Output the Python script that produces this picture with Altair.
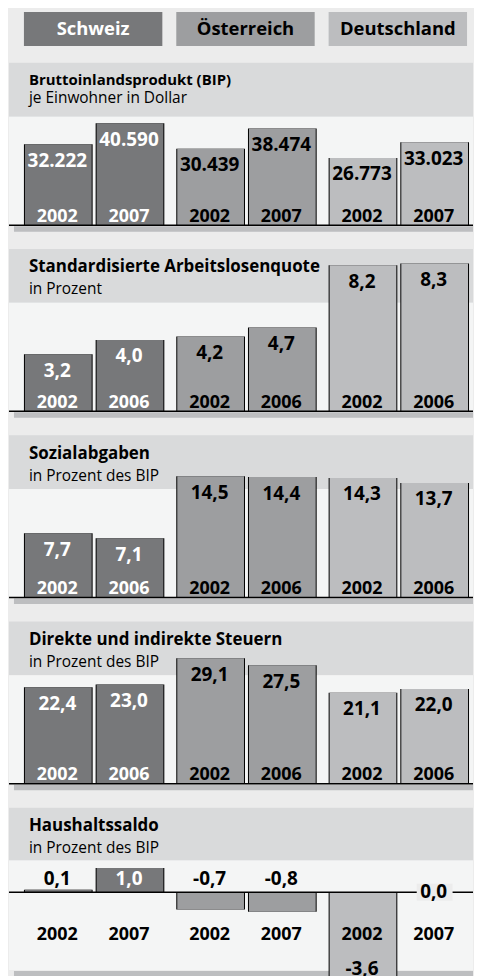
import altair as alt
import pandas as pd

# ---------------- data ----------------
countries = ["Schweiz", "Österreich", "Deutschland"]
titles = [
    "Bruttoinlandsprodukt (BIP)",
    "Standardisierte Arbeitslosenquote",
    "Sozialabgaben",
    "Direkte und indirekte Steuern",
    "Haushaltssaldo",
]
subtitles = [
    "je Einwohner in Dollar",
    "in Prozent",
    "in Prozent des BIP",
    "in Prozent des BIP",
    "in Prozent des BIP",
]
years = [
    ["2002", "2007"],
    ["2002", "2006"],
    ["2002", "2006"],
    ["2002", "2006"],
    ["2002", "2007"],
]
bip = [32222, 40590, 30439, 38474, 26773, 33023]
arbeitslosen = [3.2, 4.0, 4.2, 4.7, 8.2, 8.3]
sozial = [7.7, 7.1, 14.5, 14.4, 14.3, 13.7]
steuern = [22.4, 23.0, 29.1, 27.5, 21.1, 22.0]
haushalt = [0.1, 1.0, -0.7, -0.8, -3.6, 0.0]

# ---------------- style ----------------
W = 466
FONT = "Open Sans"
BAR_COLORS = ["#77787a", "#9d9ea0", "#bcbdbf"]
HEADER = "#d9dadb"
PLOTBG = "#f4f5f5"
PAGEBG = "#ececec"
SHADOW = "#bdbec0"
TITLE_SIZES = [15, 17, 17, 17, 17]

xscale = alt.Scale(domain=countries, range=[15, 462], paddingInner=0.0784, paddingOuter=0)
xoscale = alt.Scale(domain=[0, 1], paddingInner=0.0417, paddingOuter=0)
colscale = alt.Scale(domain=countries, range=BAR_COLORS)
one = pd.DataFrame({"k": [0]})


def fmt_de(v, thousands=False):
    if thousands:
        return f"{v:,}".replace(",", ".")
    return f"{v:.1f}".replace(".", ",")


def make_df(vals, yrs, thousands=False):
    rows = []
    for i, v in enumerate(vals):
        rows.append({
            "country": countries[i // 2],
            "slot": i % 2,
            "year": yrs[i % 2],
            "value": v,
            "label": fmt_de(v, thousands),
        })
    return pd.DataFrame(rows)


def deco(bg_top, base_y, shadow_bottom, p, title_y, sub_y):
    header = alt.Chart(one).mark_rect(color=HEADER).encode(
        x=alt.value(0), x2=alt.value(W), y=alt.value(0), y2=alt.value(bg_top))
    plotbg = alt.Chart(one).mark_rect(color=PLOTBG).encode(
        x=alt.value(0), x2=alt.value(W), y=alt.value(bg_top), y2=alt.value(base_y))
    shadow = alt.Chart(one).mark_rect(color=SHADOW).encode(
        x=alt.value(5), x2=alt.value(W), y=alt.value(base_y + 1), y2=alt.value(shadow_bottom))
    t = alt.Chart(one).mark_text(font=FONT, fontSize=TITLE_SIZES[p], fontWeight="bold", align="left",
                                 baseline="alphabetic", color="black").encode(
        x=alt.value(20), y=alt.value(title_y), text=alt.value(titles[p]))
    s = alt.Chart(one).mark_text(font=FONT, fontSize=15.5, align="left",
                                 baseline="alphabetic", color="black").encode(
        x=alt.value(20), y=alt.value(sub_y), text=alt.value(subtitles[p]))
    return [header, plotbg, shadow, t, s]


white_cond = "datum.country == 'Schweiz' && datum.value > 0.5"


def bars(df, Y):
    base = alt.Chart(df)
    X = alt.X("country:N", scale=xscale, axis=None)
    XO = alt.XOffset("slot:N", scale=xoscale)
    black = base.mark_bar(color="black", clip=True).encode(
        x=X, xOffset=XO, y=Y, y2=alt.datum(0))
    fill = base.mark_bar(width=67, xOffset=-1, clip=True).encode(
        x=X, xOffset=XO, y=Y, y2=alt.datum(0),
        color=alt.Color("country:N", scale=colscale, legend=None))
    return base, X, XO, [black, fill]


def std_panel(vals, p, domain, rng, thousands=False):
    df = make_df(vals, years[p], thousands)
    Y = alt.Y("value:Q", scale=alt.Scale(domain=domain, range=rng, nice=False, zero=False), axis=None)
    base, X, XO, bl = bars(df, Y)
    rule = alt.Chart(one).mark_rule(color="black", strokeWidth=1.5).encode(
        y=alt.YDatum(0, axis=None))
    vals_t = base.mark_text(font=FONT, fontSize=19, fontWeight="bold", baseline="alphabetic",
                            dy=22.5, dx=-1).encode(
        x=X, xOffset=XO, y=Y, text="label:N",
        color=alt.condition(white_cond, alt.value("white"), alt.value("black")))
    yrs_t = base.mark_text(font=FONT, fontSize=18, fontWeight="bold", baseline="alphabetic",
                           dy=-3.5, dx=-1).encode(
        x=X, xOffset=XO, y=alt.YDatum(0, axis=None), text="year:N",
        color=alt.condition("datum.country == 'Schweiz'", alt.value("white"), alt.value("black")))
    if p == 0:
        layers = deco(54, 163, 169.5, p, 22.5, 40.5)
    else:
        layers = deco(54, 163, 169.5, p, 23.5, 45.5)
    layers = layers + bl + [rule, vals_t, yrs_t]
    return alt.layer(*layers).properties(width=W, height=187)


def last_panel(h):
    p = 4
    df = make_df(haushalt, years[p])
    Y = alt.Y("value:Q", scale=alt.Scale(domain=[-4, 2], range=[183, 36], nice=False, zero=False), axis=None)
    base, X, XO, bl = bars(df, Y)
    rule = alt.Chart(one).mark_rule(color="black", strokeWidth=1.5).encode(
        y=alt.YDatum(0, axis=None))
    txt = dict(font=FONT, fontSize=19, fontWeight="bold", baseline="alphabetic", dx=-1)
    above = base.transform_filter("datum.value != 0 && datum.value > -2").mark_text(dy=-7, **txt).encode(
        x=X, xOffset=XO, y=alt.YDatum(0, axis=None), text="label:N",
        color=alt.condition(white_cond, alt.value("white"), alt.value("black")))
    zbg = base.transform_filter("datum.value == 0").mark_tick(
        color=PAGEBG, size=36, thickness=17, xOffset=-1, opacity=1).encode(
        x=X, xOffset=XO, y=Y)
    ztxt = base.transform_filter("datum.value == 0").mark_text(dy=6, **txt).encode(
        x=X, xOffset=XO, y=Y, text="label:N", color=alt.value("black"))
    below = base.transform_filter("datum.value <= -2").mark_text(dy=-5, **txt).encode(
        x=X, xOffset=XO, y=Y, text="label:N", color=alt.value("black"))
    yrs_t = base.mark_text(dy=48, font=FONT, fontSize=18, fontWeight="bold",
                           baseline="alphabetic", dx=-1).encode(
        x=X, xOffset=XO, y=alt.YDatum(0, axis=None), text="year:N", color=alt.value("black"))
    layers = deco(53, 163, 169.5, p, 23.5, 45.5) + bl + [rule, zbg, above, ztxt, below, yrs_t]
    return alt.layer(*layers).properties(width=W, height=h)


# legend
leg_df = pd.DataFrame({"country": countries})
LX = alt.X("country:N", scale=xscale, axis=None)
leg_boxes = alt.Chart(leg_df).mark_bar(width=139, xOffset=-1).encode(
    x=LX, y=alt.value(2), y2=alt.value(36),
    color=alt.Color("country:N", scale=colscale, legend=None))
leg_text = alt.Chart(leg_df).mark_text(font=FONT, fontSize=18.5, fontWeight="bold",
                                       baseline="alphabetic", dx=-1).encode(
    x=LX, y=alt.value(25.5), text="country:N",
    color=alt.condition("datum.country == 'Schweiz'", alt.value("white"), alt.value("black")))
legend = alt.layer(leg_boxes, leg_text).properties(width=W, height=53)

p1 = std_panel(bip, 0, [0, 40000], [163, 62.2], thousands=True)
p2 = std_panel(arbeitslosen, 1, [0, 10], [163, -16])
p3 = std_panel(sozial, 2, [0, 20], [163, -5])
p4 = std_panel(steuern, 3, [0, 30], [163, 33.1])
p5 = last_panel(175)

chart = alt.vconcat(legend, p1, p2, p3, p4, p5, spacing=0).properties(
    padding=0, background=PAGEBG
).configure_view(stroke=None).resolve_scale(y="independent")

chart.save("out.html", embed_options={"renderer": "svg", "actions": False})
